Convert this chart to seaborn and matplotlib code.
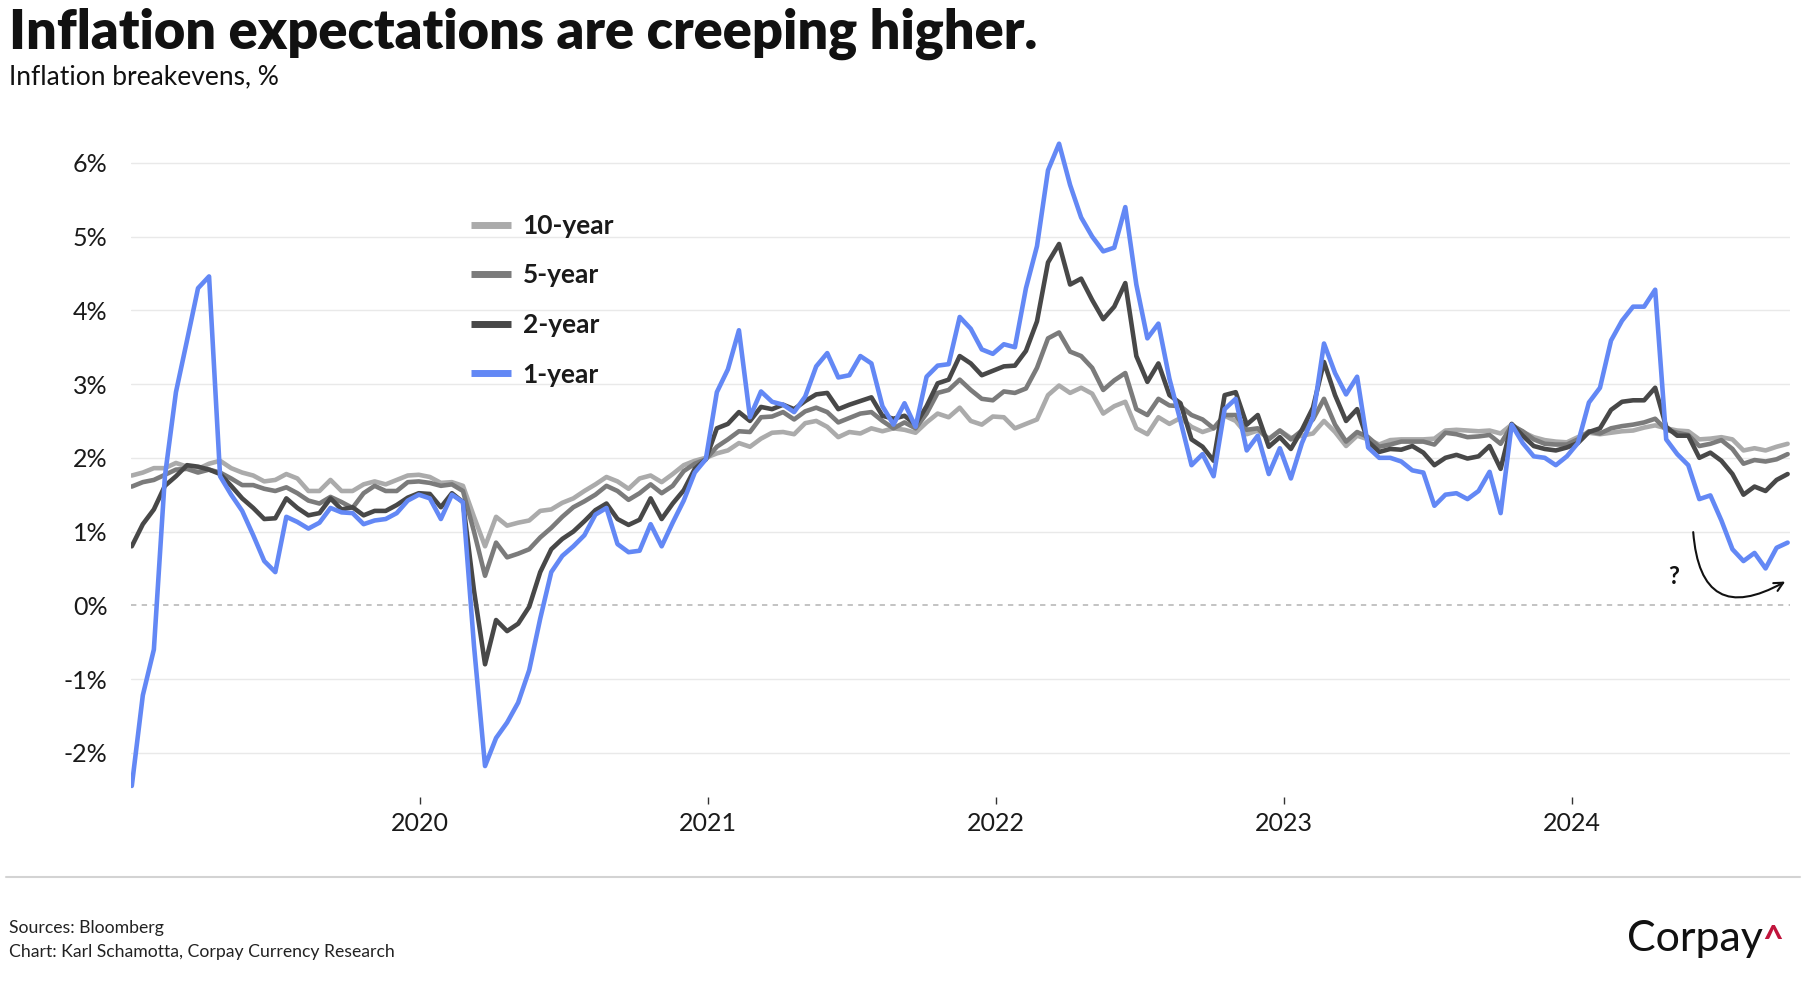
import pandas as pd
import matplotlib
matplotlib.use("Agg")
import matplotlib.pyplot as plt
from matplotlib.lines import Line2D
import seaborn as sns

# fortnightly breakeven readings, Jan 2019 - Oct 2024
start_date = "2019-01-01"

one_year = [
    -2.45, -1.22, -0.60, 1.75, 2.89, 3.59, 4.30, 4.46, 1.75, 1.50,
    1.28, 0.95, 0.60, 0.45, 1.20, 1.13, 1.04, 1.12, 1.32, 1.26,
    1.25, 1.10, 1.15, 1.17, 1.25, 1.42, 1.50, 1.45, 1.17, 1.50,
    1.40, -0.55, -2.18, -1.80, -1.59, -1.32, -0.88, -0.18, 0.45, 0.67,
    0.80, 0.95, 1.23, 1.32, 0.83, 0.72, 0.74, 1.10, 0.80, 1.12,
    1.42, 1.80, 1.98, 2.89, 3.20, 3.73, 2.55, 2.90, 2.76, 2.72,
    2.62, 2.83, 3.24, 3.42, 3.09, 3.12, 3.38, 3.28, 2.70, 2.45,
    2.74, 2.42, 3.10, 3.25, 3.27, 3.91, 3.75, 3.47, 3.41, 3.54,
    3.50, 4.30, 4.87, 5.90, 6.26, 5.70, 5.26, 5.00, 4.80, 4.85,
    5.40, 4.35, 3.62, 3.82, 3.07, 2.50, 1.90, 2.05, 1.75, 2.66,
    2.80, 2.10, 2.30, 1.78, 2.13, 1.72, 2.20, 2.55, 3.55, 3.15,
    2.86, 3.10, 2.14, 2.00, 2.00, 1.95, 1.83, 1.80, 1.35, 1.50,
    1.52, 1.44, 1.55, 1.81, 1.25, 2.45, 2.20, 2.02, 2.00, 1.90,
    2.02, 2.20, 2.75, 2.95, 3.59, 3.86, 4.05, 4.05, 4.28, 2.25,
    2.05, 1.90, 1.44, 1.49, 1.15, 0.76, 0.60, 0.71, 0.50, 0.78,
    0.85,
]

two_year = [
    0.80, 1.10, 1.30, 1.62, 1.75, 1.90, 1.88, 1.84, 1.78, 1.62,
    1.45, 1.32, 1.17, 1.18, 1.45, 1.32, 1.22, 1.25, 1.45, 1.30,
    1.33, 1.22, 1.28, 1.28, 1.36, 1.46, 1.52, 1.51, 1.33, 1.52,
    1.40, 0.20, -0.80, -0.20, -0.35, -0.25, -0.02, 0.45, 0.76, 0.90,
    1.00, 1.14, 1.29, 1.38, 1.17, 1.09, 1.16, 1.45, 1.17, 1.38,
    1.56, 1.85, 1.98, 2.40, 2.46, 2.62, 2.50, 2.69, 2.66, 2.72,
    2.66, 2.77, 2.86, 2.88, 2.66, 2.72, 2.77, 2.82, 2.57, 2.53,
    2.57, 2.45, 2.70, 3.01, 3.06, 3.38, 3.28, 3.12, 3.18, 3.24,
    3.25, 3.45, 3.85, 4.65, 4.90, 4.35, 4.43, 4.14, 3.88, 4.05,
    4.37, 3.38, 3.03, 3.28, 2.85, 2.74, 2.25, 2.15, 1.96, 2.85,
    2.89, 2.45, 2.58, 2.15, 2.28, 2.12, 2.38, 2.68, 3.30, 2.85,
    2.50, 2.66, 2.22, 2.08, 2.12, 2.11, 2.16, 2.07, 1.90, 2.00,
    2.04, 1.99, 2.02, 2.16, 1.85, 2.46, 2.30, 2.16, 2.12, 2.10,
    2.14, 2.20, 2.35, 2.40, 2.65, 2.76, 2.78, 2.78, 2.95, 2.42,
    2.30, 2.30, 2.00, 2.07, 1.96, 1.78, 1.50, 1.61, 1.55, 1.70,
    1.78,
]

five_year = [
    1.61, 1.67, 1.70, 1.77, 1.84, 1.85, 1.80, 1.84, 1.80, 1.72,
    1.63, 1.63, 1.58, 1.55, 1.60, 1.52, 1.42, 1.38, 1.47, 1.40,
    1.32, 1.52, 1.62, 1.55, 1.55, 1.67, 1.68, 1.66, 1.62, 1.64,
    1.55, 1.00, 0.40, 0.85, 0.65, 0.70, 0.76, 0.92, 1.05, 1.20,
    1.33, 1.41, 1.50, 1.62, 1.55, 1.43, 1.52, 1.64, 1.52, 1.62,
    1.82, 1.92, 1.98, 2.15, 2.25, 2.36, 2.35, 2.55, 2.56, 2.62,
    2.52, 2.63, 2.68, 2.62, 2.48, 2.54, 2.60, 2.62, 2.50, 2.40,
    2.48, 2.40, 2.60, 2.88, 2.92, 3.06, 2.92, 2.80, 2.78, 2.90,
    2.88, 2.94, 3.22, 3.62, 3.70, 3.44, 3.38, 3.22, 2.92, 3.05,
    3.15, 2.66, 2.58, 2.80, 2.71, 2.70, 2.58, 2.52, 2.40, 2.58,
    2.58, 2.38, 2.40, 2.25, 2.37, 2.25, 2.37, 2.52, 2.80, 2.45,
    2.22, 2.35, 2.28, 2.15, 2.18, 2.22, 2.22, 2.22, 2.18, 2.34,
    2.32, 2.28, 2.29, 2.31, 2.19, 2.44, 2.36, 2.25, 2.19, 2.18,
    2.18, 2.25, 2.36, 2.33, 2.40, 2.43, 2.45, 2.48, 2.53, 2.38,
    2.34, 2.31, 2.16, 2.19, 2.24, 2.12, 1.92, 1.97, 1.95, 1.98,
    2.05,
]

ten_year = [
    1.76, 1.80, 1.86, 1.86, 1.93, 1.88, 1.85, 1.92, 1.96, 1.86,
    1.80, 1.76, 1.68, 1.70, 1.78, 1.72, 1.55, 1.55, 1.70, 1.55,
    1.55, 1.64, 1.68, 1.64, 1.70, 1.76, 1.77, 1.74, 1.66, 1.67,
    1.62, 1.20, 0.80, 1.20, 1.08, 1.12, 1.15, 1.28, 1.30, 1.39,
    1.45, 1.55, 1.64, 1.74, 1.68, 1.58, 1.72, 1.76, 1.67, 1.78,
    1.90, 1.96, 2.00, 2.06, 2.10, 2.20, 2.15, 2.26, 2.34, 2.35,
    2.32, 2.47, 2.50, 2.42, 2.28, 2.35, 2.33, 2.40, 2.36, 2.40,
    2.38, 2.34, 2.48, 2.60, 2.55, 2.68, 2.50, 2.45, 2.56, 2.55,
    2.40, 2.46, 2.52, 2.85, 2.98, 2.88, 2.95, 2.87, 2.60, 2.70,
    2.76, 2.40, 2.32, 2.55, 2.46, 2.54, 2.42, 2.35, 2.40, 2.57,
    2.50, 2.32, 2.37, 2.26, 2.37, 2.27, 2.30, 2.33, 2.50, 2.35,
    2.16, 2.30, 2.25, 2.18, 2.24, 2.25, 2.25, 2.25, 2.26, 2.37,
    2.38, 2.37, 2.36, 2.37, 2.33, 2.45, 2.35, 2.28, 2.24, 2.22,
    2.21, 2.28, 2.34, 2.32, 2.34, 2.36, 2.37, 2.41, 2.44, 2.40,
    2.37, 2.36, 2.25, 2.26, 2.28, 2.25, 2.10, 2.13, 2.10, 2.15,
    2.19,
]

series_names = ["10-year", "5-year", "2-year", "1-year"]
series_colors = ["#ababab", "#7b7b7b", "#484848", "#6388f5"]
y_ticks = [-2, -1, 0, 1, 2, 3, 4, 5, 6]
year_labels = ["2020", "2021", "2022", "2023", "2024"]

title = "Inflation expectations are creeping higher."
subtitle = "Inflation breakevens, %"
source_note = "Sources: Bloomberg"
chart_note = "Chart: Karl Schamotta, Corpay Currency Research"


def main():
    dates = pd.date_range(start_date, periods=len(one_year), freq="14D")
    frames = []
    for name, values in zip(series_names, [ten_year, five_year, two_year, one_year]):
        frames.append(pd.DataFrame({"date": dates, "value": values, "series": name}))
    df = pd.concat(frames, ignore_index=True)

    sns.set_theme(style="white")
    plt.rcParams["font.family"] = ["Lato", "DejaVu Sans"]

    W, H = 1806, 1000
    fig = plt.figure(figsize=(W / 100, H / 100), dpi=100)
    fig.patch.set_facecolor("white")
    ax = fig.add_axes([131 / W, 1 - 797 / H, (1790 - 131) / W, 671 / H])

    # grid first so the lines sit on top
    for t in y_ticks:
        if t == 0:
            ax.axhline(0, color="#b3b3b3", lw=1.1, ls=(0, (3.5, 3.5)), zorder=1)
        else:
            ax.axhline(t, color="#e9e9e9", lw=1.0, zorder=0)

    sns.lineplot(
        data=df, x="date", y="value", hue="series", hue_order=series_names,
        palette=series_colors, estimator=None, linewidth=3.3, legend=False,
        ax=ax, zorder=3,
    )

    ax.set_ylim(-2.6, 6.5)
    ax.set_xlim(pd.Timestamp("2018-12-31"), pd.Timestamp("2024-10-04"))
    ax.set_yticks(y_ticks)
    ax.set_yticklabels([f"{t}%" for t in y_ticks])
    ax.set_xticks([pd.Timestamp(f"{y}-01-01") for y in year_labels])
    ax.set_xticklabels(year_labels)
    ax.set_xlabel("")
    ax.set_ylabel("")
    for s in ax.spines.values():
        s.set_visible(False)
    ax.tick_params(axis="y", length=0, pad=17, labelsize=18, labelcolor="#1a1a1a")
    ax.tick_params(axis="x", bottom=True, length=5, width=1, color="#333333",
                   direction="out", pad=6, labelsize=18, labelcolor="#1a1a1a")

    handles = [Line2D([], [], color=c, lw=5, solid_capstyle="butt") for c in series_colors]
    leg = ax.legend(handles, series_names, loc="upper left", bbox_to_anchor=(0.205, 0.869),
                    frameon=False, fontsize=19, handlelength=1.5, handletextpad=0.45,
                    labelspacing=0.97, borderpad=0, borderaxespad=0)
    for txt in leg.get_texts():
        txt.set_fontweight("bold")
        txt.set_color("#1a1a1a")

    # question-mark note
    ax.text(pd.Timestamp("2024-05-10"), 0.39, "?", fontsize=17, fontweight="bold",
            ha="center", va="center", color="#111111")
    ax.annotate("", xy=(pd.Timestamp("2024-10-01"), 0.34),
                xytext=(pd.Timestamp("2024-06-03"), 1.03),
                arrowprops=dict(arrowstyle="->", color="#111111", lw=1.5,
                                connectionstyle="arc3,rad=0.8", mutation_scale=16))

    fig.text(9 / W, 1 - 49 / H, title, fontsize=39, fontweight="heavy",
             color="#111111", va="baseline", ha="left")
    fig.text(9 / W, 1 - 84 / H, subtitle, fontsize=19, color="#111111",
             va="baseline", ha="left")

    fig.add_artist(Line2D([6 / W, 1800 / W], [1 - 877 / H, 1 - 877 / H],
                          color="#d3d3d3", lw=1.5))
    fig.text(9 / W, 1 - 933 / H, source_note, fontsize=12.7, color="#222222", va="baseline")
    fig.text(9 / W, 1 - 957 / H, chart_note, fontsize=12.7, color="#222222", va="baseline")

    fig.text(1627 / W, 1 - 951 / H, "Corpay", fontsize=31, color="#111111", va="baseline")
    fig.text(1762 / W, 1 - 951 / H, "^", fontsize=26, fontweight="bold",
             color="#c0143c", va="baseline")

    fig.savefig("out.png", dpi=100, facecolor="white")
    plt.close(fig)


if __name__ == "__main__":
    main()
